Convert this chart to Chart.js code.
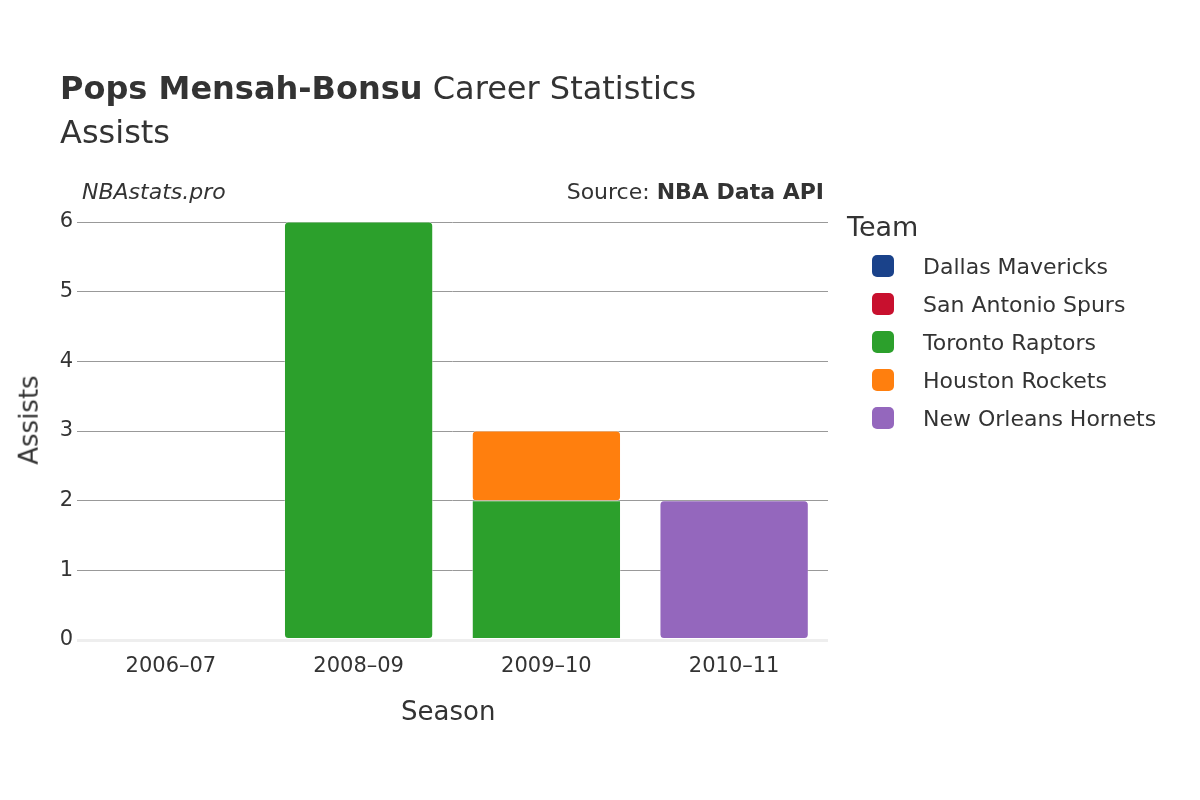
<!DOCTYPE html>
<html><head><meta charset="utf-8">
<script src="https://cdn.jsdelivr.net/npm/chart.js@4"></script>
<style>
body{margin:0;width:1200px;height:800px;position:relative;font-family:"DejaVu Sans",sans-serif;color:#333;background:#fff}
.t{position:absolute;white-space:nowrap}
.sw{position:absolute;width:22px;height:22px;border-radius:5px}
</style></head><body>
<canvas id="c" width="1200" height="800" style="position:absolute;left:0;top:0"></canvas>
<div class="t" style="left:60px;top:69px;font-size:32px"><b>Pops Mensah-Bonsu</b> Career Statistics</div>
<div class="t" style="left:60px;top:113px;font-size:32px">Assists</div>
<div class="t" style="left:82px;top:179px;font-size:22px;font-style:italic">NBAstats.pro</div>
<div class="t" style="right:376px;top:179px;font-size:22px">Source: <b>NBA Data API</b></div>
<div class="t" style="left:401px;top:696px;font-size:26px">Season</div>
<div class="t" style="left:-16px;top:405px;font-size:26px;transform:rotate(-90deg)">Assists</div>
<div id="lg"></div>
<script>
const seasons = ["2006–07", "2008–09", "2009–10", "2010–11"];
const teams = ["Dallas Mavericks", "San Antonio Spurs", "Toronto Raptors", "Houston Rockets", "New Orleans Hornets"];
const teamColors = ["#1a428a", "#c8102e", "#2ca02c", "#ff7f0e", "#9467bd"];
const dallas = [0, null, null, null];
const spurs = [0, null, null, null];
const raptors = [null, 6, 2, null];
const rockets = [null, null, 1, null];
const hornets = [null, null, null, 2];
const values = [dallas, spurs, raptors, rockets, hornets];

let lg = document.getElementById('lg');
let html = '<div class="t" style="left:847px;top:211px;font-size:27px">Team</div>';
teams.forEach((name, i) => {
  let y = 267 + i * 38;
  html += '<div class="sw" style="left:872px;top:' + (y - 12) + 'px;background:' + teamColors[i] + '"></div>';
  html += '<div class="t" style="left:923px;top:' + (y - 13) + 'px;font-size:22px">' + name + '</div>';
});
lg.innerHTML = html;

new Chart(document.getElementById('c'), {
  type: 'bar',
  data: {
    labels: seasons,
    datasets: teams.map((name, i) => ({
      label: name, data: values[i], backgroundColor: teamColors[i],
      borderColor: '#fff', borderWidth: 0.5, borderRadius: 4, borderSkipped: false,
      barPercentage: 0.79, categoryPercentage: 1
    }))
  },
  options: {
    responsive: false, animation: false,
    layout: { padding: { left: 0, top: 222, right: 372, bottom: 0 } },
    plugins: { legend: { display: false }, tooltip: { enabled: false } },
    scales: {
      x: {
        stacked: true,
        afterFit: s => { s.height = 160; },
        grid: { display: false },
        border: { display: false },
        ticks: { color: '#333', font: { size: 21, family: 'DejaVu Sans' }, padding: 6 }
      },
      y: {
        stacked: true, min: 0, max: 6,
        afterFit: s => { s.width = 77; },
        grid: { drawTicks: false, color: c => c.tick.value === 0 ? '#eee' : '#999', lineWidth: c => c.tick.value === 0 ? 3 : 1 },
        border: { display: false },
        ticks: { stepSize: 1, color: '#333', font: { size: 21, family: 'DejaVu Sans' }, padding: 4 }
      }
    }
  }
});
</script>
</body></html>
